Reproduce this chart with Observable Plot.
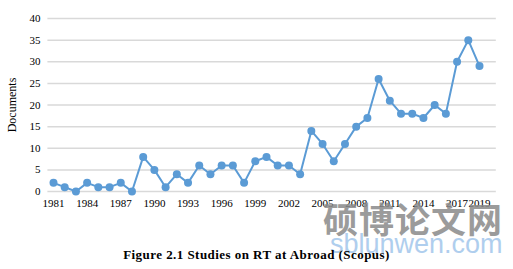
<!DOCTYPE html>
<html><head><meta charset="utf-8">
<script src="https://cdn.jsdelivr.net/npm/d3@7"></script>
<script src="https://cdn.jsdelivr.net/npm/@observablehq/plot@0.6"></script>
<style>
body{margin:0;background:#fff;font-family:"Liberation Serif",serif;}
#wrap{position:relative;width:513px;height:269px;overflow:hidden;}
#cap{position:absolute;left:0;width:513px;top:247px;text-align:center;font:bold 13px "Liberation Serif",serif;color:#000;letter-spacing:0.45px;}
#wm1{position:absolute;left:323px;top:192px;font:bold 35px "Noto Sans CJK SC";color:#8a8a8a;letter-spacing:1px;opacity:0.85;}
#wm2{position:absolute;left:330px;top:229px;font:27px "Liberation Sans",sans-serif;color:#9cc3ea;opacity:0.8;}
</style></head>
<body><div id="wrap"><div id="chart"></div>
<div id="wm1">硕博论文网</div>
<div id="wm2">sblunwen.com</div>
<div id="cap">Figure 2.1 Studies on RT at Abroad (Scopus)</div></div>
<script>
const years = [1981,1982,1983,1984,1985,1986,1987,1988,1989,1990,1991,1992,1993,1994,1995,1996,1997,1998,1999,2000,2001,2002,2003,2004,2005,2006,2007,2008,2009,2010,2011,2012,2013,2014,2015,2016,2017,2018,2019];
const documents = [2,1,0,2,1,1,2,0,8,5,1,4,2,6,4,6,6,2,7,8,6,6,4,14,11,7,11,15,17,26,21,18,18,17,20,18,30,35,29];
const xTicks = [1981,1984,1987,1990,1993,1996,1999,2002,2005,2008,2011,2014,2017,2019];
const yTicks = [0,5,10,15,20,25,30,35,40];
const data = years.map((y,i)=>({year:y, docs:documents[i]}));
const chart = Plot.plot({
  width:513, height:230,
  marginLeft:53, marginRight:34, marginTop:18, marginBottom:39,
  style:{fontFamily:"Liberation Serif, serif", fontSize:"11px", color:"#000", background:"#fff"},
  x:{type:"linear", domain:[1981,2019], ticks:xTicks, tickFormat:d=>String(d), tickSize:0, tickPadding:8, label:null},
  y:{domain:[0,40], ticks:yTicks, tickSize:0, tickPadding:13, label:"Documents", labelAnchor:"center", labelArrow:"none", labelOffset:46},
  marks:[
    Plot.ruleY(yTicks,{x1:1980.5,x2:2020.5,stroke:"#d9d9d9",strokeWidth:1.5}),
    Plot.line(data,{x:"year",y:"docs",stroke:"#5b9bd5",strokeWidth:2}),
    Plot.dot(data,{x:"year",y:"docs",r:4,fill:"#5b9bd5",stroke:"none"})
  ]
});
chart.querySelectorAll("[aria-label='y-axis label'] text").forEach(t=>t.style.fontSize="12px");
document.getElementById("chart").appendChild(chart);
</script></body></html>
